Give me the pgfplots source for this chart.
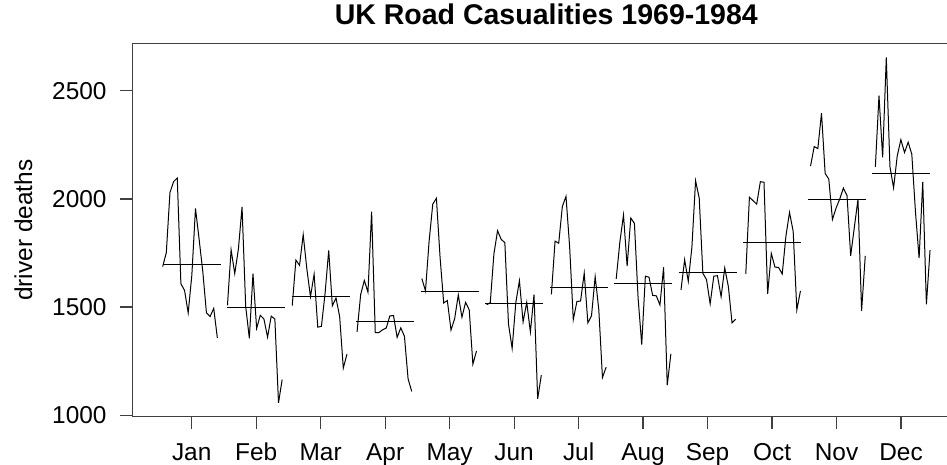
\documentclass[border=0pt]{standalone}
\usepackage{pgfplots}
\pgfplotsset{compat=1.18}
\usepackage{fontspec}
\setmainfont{Liberation Sans}
\tikzset{dd/.style={black, line width=1pt, mark=none}}
\begin{document}
\begin{tikzpicture}
\begin{axis}[
  at={(132.3pt,48.3pt)}, anchor=south west,
  scale only axis, width=814.7pt, height=373pt,
  xmin=0.079, xmax=12.713, ymin=993.12, ymax=2717.88,
  axis x line*=box, axis y line*=left,
  xtick pos=bottom, ytick pos=left,
  xtick={1,2,3,4,5,6,7,8,9,10,11,12},
  xticklabels={Jan,Feb,Mar,Apr,May,Jun,Jul,Aug,Sep,Oct,Nov,Dec},
  ytick={1000,1500,2000,2500},
  tick align=outside, major tick length=12pt,
  axis line style={line width=1.4pt, black!75},
  every tick/.style={line width=1.2pt, black!75},
  /pgf/number format/assume math mode=true,
  /pgf/number format/1000 sep={},
  scaled y ticks=false,
  ticklabel style={font=\fontsize{24.4}{28}\selectfont, inner sep=0pt},
  xticklabel style={anchor=base, yshift=-31.3pt},
  yticklabel style={anchor=east, xshift=-13.6pt},
  title={UK Road Casualities 1969-1984},
  title style={at={(0.5082,1)}, anchor=base, yshift=13.0pt, inner sep=0pt, font=\fontsize{28.5}{32}\selectfont\bfseries},
  ylabel={driver deaths},
  every axis y label/.style={at={([xshift=-100.1pt]axis description cs:0,0.5)}, rotate=90, anchor=base, inner sep=0pt, font=\fontsize{24.4}{28}\selectfont},
]
% Jan
\addplot[dd] coordinates {(0.5500,1687)(0.6065,1752)(0.6631,2030)(0.7196,2080)(0.7762,2097)(0.8327,1608)(0.8893,1577)(0.9458,1473)(1.0024,1648)(1.0589,1956)(1.1154,1813)(1.1720,1665)(1.2285,1474)(1.2851,1456)(1.3416,1494)(1.3982,1357)};
\addplot[dd] coordinates {(0.55,1697.94)(1.45,1697.94)};
% Feb
\addplot[dd] coordinates {(1.5547,1508)(1.6112,1765)(1.6678,1655)(1.7243,1768)(1.7809,1963)(1.8374,1503)(1.8940,1356)(1.9505,1655)(2.0071,1401)(2.0636,1462)(2.1201,1445)(2.1767,1361)(2.2332,1458)(2.2898,1445)(2.3463,1057)(2.4029,1165)};
\addplot[dd] coordinates {(1.55,1497.94)(2.45,1497.94)};
% Mar
\addplot[dd] coordinates {(2.5594,1507)(2.6159,1717)(2.6725,1693)(2.7290,1835)(2.7856,1677)(2.8421,1548)(2.8987,1652)(2.9552,1407)(3.0118,1411)(3.0683,1563)(3.1248,1762)(3.1814,1506)(3.2379,1542)(3.2945,1456)(3.3510,1218)(3.4076,1282)};
\addplot[dd] coordinates {(2.55,1548.5)(3.45,1548.5)};
% Apr
\addplot[dd] coordinates {(3.5641,1385)(3.6206,1558)(3.6772,1623)(3.7337,1569)(3.7903,1941)(3.8468,1382)(3.9034,1382)(3.9599,1395)(4.0165,1403)(4.0730,1459)(4.1295,1461)(4.1861,1360)(4.2426,1404)(4.2992,1365)(4.3557,1168)(4.4123,1110)};
\addplot[dd] coordinates {(3.55,1435.31)(4.45,1435.31)};
% May
\addplot[dd] coordinates {(4.5688,1632)(4.6253,1575)(4.6819,1805)(4.7384,1976)(4.7950,2003)(4.8515,1731)(4.9081,1519)(4.9646,1530)(5.0212,1394)(5.0777,1446)(5.1342,1556)(5.1908,1453)(5.2473,1522)(5.3039,1487)(5.3604,1236)(5.4170,1297)};
\addplot[dd] coordinates {(4.55,1572.63)(5.45,1572.63)};
% Jun
\addplot[dd] coordinates {(5.5736,1511)(5.6301,1520)(5.6867,1746)(5.7432,1853)(5.7998,1813)(5.8563,1798)(5.9129,1421)(5.9694,1309)(6.0260,1520)(6.0825,1622)(6.1390,1431)(6.1956,1522)(6.2521,1385)(6.3087,1558)(6.3652,1076)(6.4218,1185)};
\addplot[dd] coordinates {(5.55,1516.88)(6.45,1516.88)};
% Jul
\addplot[dd] coordinates {(6.5783,1559)(6.6348,1805)(6.6914,1795)(6.7479,1965)(6.8045,2012)(6.8610,1779)(6.9176,1442)(6.9741,1526)(7.0307,1528)(7.0872,1657)(7.1437,1427)(7.2003,1460)(7.2568,1641)(7.3134,1488)(7.3699,1174)(7.4265,1222)};
\addplot[dd] coordinates {(6.55,1592.5)(7.45,1592.5)};
% Aug
\addplot[dd] coordinates {(7.5830,1630)(7.6395,1800)(7.6961,1926)(7.7526,1689)(7.8092,1912)(7.8657,1887)(7.9223,1543)(7.9788,1327)(8.0354,1643)(8.0919,1638)(8.1484,1554)(8.2050,1552)(8.2615,1510)(8.3181,1684)(8.3746,1139)(8.4312,1284)};
\addplot[dd] coordinates {(7.55,1607.38)(8.45,1607.38)};
% Sep
\addplot[dd] coordinates {(8.5877,1579)(8.6442,1719)(8.7008,1619)(8.7573,1778)(8.8139,2084)(8.8704,2004)(8.9270,1656)(8.9835,1627)(9.0401,1515)(9.0966,1643)(9.1531,1645)(9.2097,1548)(9.2662,1681)(9.3228,1594)(9.3793,1427)(9.4359,1444)};
\addplot[dd] coordinates {(8.55,1660.19)(9.45,1660.19)};
% Oct
\addplot[dd] coordinates {(9.5924,1653)(9.6489,2008)(9.7055,1992)(9.7620,1976)(9.8186,2080)(9.8751,2077)(9.9317,1561)(9.9882,1748)(10.0448,1685)(10.1013,1683)(10.1578,1653)(10.2144,1827)(10.2709,1938)(10.3275,1850)(10.3840,1487)(10.4406,1575)};
\addplot[dd] coordinates {(9.55,1799.56)(10.45,1799.56)};
% Nov
\addplot[dd] coordinates {(10.5971,2152)(10.6536,2242)(10.7102,2233)(10.7667,2397)(10.8233,2118)(10.8798,2092)(10.9364,1905)(10.9929,1958)(11.0495,2000)(11.1060,2050)(11.1625,2016)(11.2191,1737)(11.2756,1868)(11.3322,1998)(11.3887,1483)(11.4453,1737)};
\addplot[dd] coordinates {(10.55,1999.13)(11.45,1999.13)};
% Dec
\addplot[dd] coordinates {(11.6018,2148)(11.6583,2478)(11.7149,2192)(11.7714,2654)(11.8280,2150)(11.8845,2051)(11.9411,2199)(11.9976,2274)(12.0542,2215)(12.1107,2262)(12.1672,2207)(12.2238,1941)(12.2803,1726)(12.3369,2079)(12.3934,1513)(12.4500,1763)};
\addplot[dd] coordinates {(11.55,2115.75)(12.45,2115.75)};
\end{axis}
\pgfresetboundingbox
\path[use as bounding box] (0,0) rectangle (947pt,465pt);
\end{tikzpicture}
\end{document}
